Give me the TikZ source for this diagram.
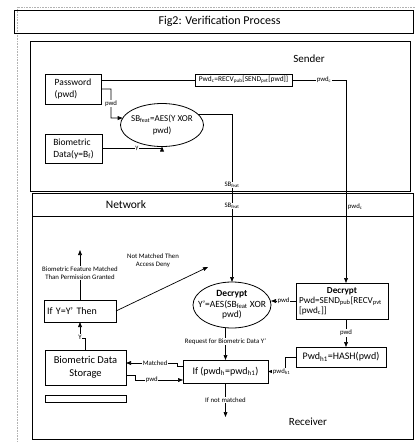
\documentclass[tikz,border=0pt]{standalone}
\usepackage{fontspec}
\setmainfont{Carlito}
\usetikzlibrary{arrows.meta,shapes.geometric,calc}
\begin{document}
\begin{tikzpicture}[x=1pt,y=-1pt,
  region/.style={line width=0.9pt},
  framegray/.style={draw=black!30, densely dotted, line width=0.6pt},
  hdr/.style={font=\fontsize{11}{13}\selectfont, inner sep=0pt},
  box/.style={draw, line width=0.8pt, inner sep=1pt, outer sep=0pt, fill=white},
  oval/.style={draw, ellipse, line width=0.8pt, outer sep=0pt, fill=white, align=center, inner ysep=0pt},
  conn/.style={line width=0.7pt},
  arr/.style={conn, -{Triangle[length=5pt,width=3.8pt]}},
  lbl/.style={font=\fontsize{6.8}{7.8}\selectfont, fill=white, inner sep=0.6pt, align=center},
]
\useasboundingbox (0,0) rectangle (415,442);

% light page frame
\draw[framegray] (415,7) -- (17,7) -- (17,442);

% title bar
\draw[region] (14,10) rectangle (413,33);
\node[font=\fontsize{12}{14}\selectfont] (title) at (219.5,21.5) {Fig2: Verification Process};

% sender region
\draw[region] (30,41) rectangle (410,191);
\node[hdr] (sender) at (309,59) {Sender};

% network and receiver region
\draw[region] (32,193) rectangle (413,439);
\draw[region] (32,216) -- (413,216);
\node[hdr, font=\fontsize{11.5}{13}\selectfont] (network) at (126,205) {Network};
\node[hdr] (receiver) at (308,422) {Receiver};

% ---- sender side ----
\node[box, minimum width=56, minimum height=30, align=left,
      font=\fontsize{9.5}{12}\selectfont] (pw) at (73,89) {Password\\(pwd)};
\node[box, minimum width=57, minimum height=29, align=left,
      font=\fontsize{9.5}{12}\selectfont] (bio) at (73.5,148.5) {Biometric\\Data(y=B\textsubscript{f})};
\node[oval, minimum width=83, minimum height=43, inner xsep=-4pt,
      font=\fontsize{9}{11.5}\selectfont] (sb) at (162,125) {SB\textsubscript{feat}=AES(Y XOR\\pwd)};
\node[box, minimum width=97, minimum height=12, inner sep=0pt,
      font=\fontsize{7.4}{8}\selectfont] (pc) at (243.5,80)
      {Pwd\textsubscript{c}=RECV\textsubscript{pub}[SEND\textsubscript{pvt}[pwd]]};

% ---- receiver side ----
\node[oval, minimum width=78, minimum height=46, inner xsep=-7pt,
      font=\fontsize{9.5}{10.5}\selectfont] (dece) at (232,305)
      {\textbf{Decrypt}\\Y’=AES(SB\textsubscript{feat} XOR\\pwd)};
\node[box, text width=86, inner xsep=3pt, minimum height=36, align=left,
      font=\fontsize{9.2}{10.2}\selectfont] (decb) at (342,301)
      {\makebox[86pt]{\textbf{Decrypt}}\\Pwd=SEND\textsubscript{pub}[RECV\textsubscript{pvt}\\{}[pwd\textsubscript{c}]]};
\node[box, minimum width=90, minimum height=20,
      font=\fontsize{10}{12}\selectfont] (hash) at (341,357) {Pwd\textsubscript{h1}=HASH(pwd)};
\node[box, minimum width=85, minimum height=23,
      font=\fontsize{10}{12}\selectfont] (ifb) at (225.5,371.5) {If (pwd\textsubscript{h}=pwd\textsubscript{h1})};
\node[box, minimum width=81, minimum height=35, align=center,
      font=\fontsize{10.5}{13}\selectfont] (store) at (85.5,367.5) {Biometric Data\\Storage};
\node[box, minimum width=81, minimum height=7] (bar) at (85.5,398.5) {};
\node[box, text width=66, inner xsep=3pt, minimum height=22, align=left,
      font=\fontsize{10}{12}\selectfont] (iy) at (80,311) {If Y=Y’ Then};

% free ends and bends
\coordinate (pwbend) at (111,118);
\coordinate (nm) at (225.5,417);
\coordinate (mk) at (177,363);
\coordinate (pk) at (135,380);
\coordinate (yk) at (80,338);
\coordinate (gr) at (80,250);
\coordinate (dn) at (208,267);

% ---- connectors ----
\draw[conn] (pw.east |- pc.west) -- (pc.west);
\draw[arr] (pw.east) -| node[lbl, pos=0.75] {pwd} (pwbend) -- (sb.170);
\draw[arr] (bio.east) -| node[lbl, pos=0.29] {y} (sb.south);

\draw[arr] (sb.17) -| node[lbl, pos=0.711] {SB\textsubscript{feat}}
                      node[lbl, pos=0.774] {SB\textsubscript{feat}} (dece.north);
\draw[arr] (pc.east) -| node[lbl, pos=0.296] {pwd\textsubscript{c}}
                        node[lbl, pos=0.813, anchor=west, fill=none, xshift=1pt] {pwd\textsubscript{c}}
                        ([xshift=4pt]decb.north);

\draw[arr] (decb.west) -- node[lbl] {pwd} (decb.west -| dece.east);
\draw[arr] ([xshift=4pt]decb.south) -- node[lbl] {pwd} ([xshift=4pt]decb.south |- hash.north);
\draw[arr] (hash.west) -| ($(ifb.east)+(17,0)$) -- node[lbl, pos=0.2] {pwd\textsubscript{h1}} (ifb.east);

\draw[arr] (dece.south -| ifb.north) -- node[lbl, pos=0.42] {Request for Biometric Data Y’} (ifb.north);
\draw[arr] (ifb.south) -- node[lbl] {If not matched} (nm);

\draw[arr] ([yshift=5.5pt]ifb.west) -| (mk) -- node[lbl, pos=0.43] {Matched} (store.east |- mk);
\draw[arr] ([yshift=-7.5pt]store.east) -| (pk) -- node[lbl, pos=0.35] {pwd} (pk -| ifb.west);

\draw[arr] (store.north) |- (yk) -- node[lbl, pos=0.05] {Y} (iy.south);
\draw[arr] (iy.north) -- node[lbl, pos=0.54] {Biometric Feature Matched\\Than Permission Granted} (gr);
\draw[arr] (iy.east) -- (dn);
\node[lbl, fill=none] (deny) at (153,261) {Not Matched Then\\Access Deny};

\end{tikzpicture}
\end{document}
